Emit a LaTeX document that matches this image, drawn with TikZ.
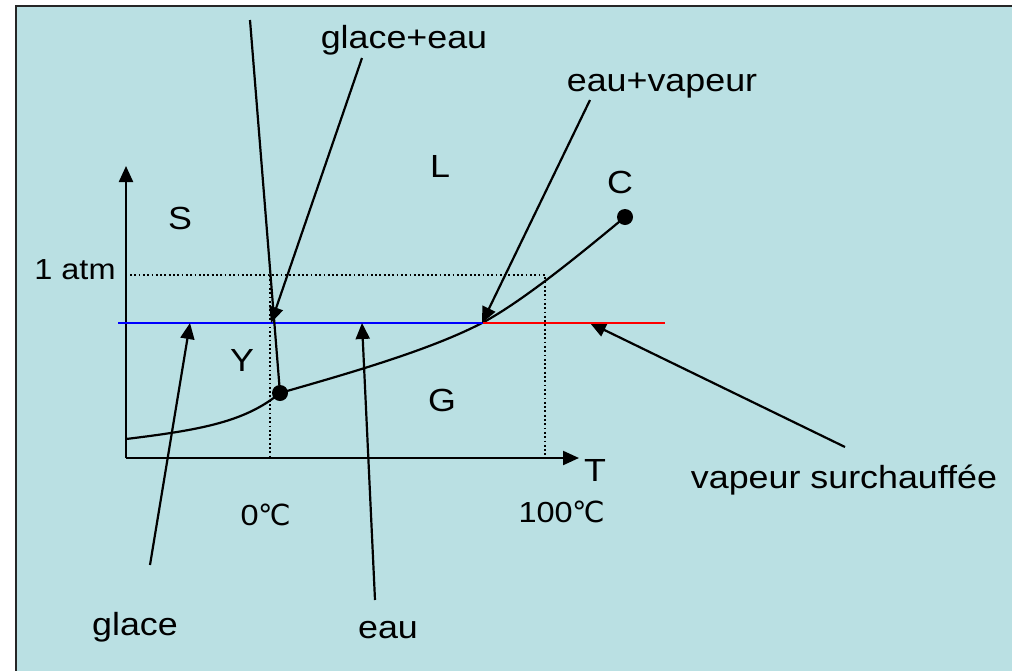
\documentclass[tikz,border=0pt]{standalone}
\usepackage{fontspec}
\setmainfont[FakeStretch=1.12]{Liberation Sans}
\newfontfamily\degfont[FakeStretch=1.0]{DejaVu Sans}
\usetikzlibrary{arrows.meta}
\definecolor{bgblue}{RGB}{186,224,227}
\definecolor{myblue}{RGB}{0,0,255}
\definecolor{myred}{RGB}{255,0,0}
\tikzset{
  lbl/.style={inner sep=0pt, font=\fontsize{32}{38}\selectfont},
  smalllbl/.style={inner sep=0pt, font=\fontsize{29}{34}\selectfont},
  ptr/.style={line width=2.2pt, -{Triangle[length=16pt,width=14pt]}},
  axis/.style={line width=2.2pt, -{Triangle[length=16pt,width=14pt]}},
  curve/.style={line width=2.2pt},
  dots/.style={line width=1.8pt, dash pattern=on 1.8pt off 2.5pt},
  dot/.style={circle, fill=black, inner sep=0pt, minimum size=16pt}
}
\begin{document}
\begin{tikzpicture}[x=1pt,y=-1pt]
\useasboundingbox (0,0) rectangle (1012,670);
\fill[white] (0,0) rectangle (1012,670);
\fill[bgblue] (16,6) rectangle (1014,672);
\draw[line width=2.6pt, black!85] (16,672) -- (16,6) -- (1014,6);

% axes
\coordinate (O) at (126,458);
\coordinate (Ytop) at (126,166);
\coordinate (Xend) at (579,458);
\draw[axis] (O) -- (Ytop);
\draw[axis] (O) -- (Xend);

% dotted guides
\coordinate (A1) at (130,275);
\coordinate (A2) at (545,275);
\coordinate (B0) at (270,275);
\coordinate (B1) at (270,458);
\coordinate (B2) at (545,458);
\draw[dots] (A1) -- (A2) -- (B2);
\draw[dots] (B0) -- (B1);

% curve
\node[dot] (tp) at (280,393) {};
\node[dot] (C) at (625,217) {};
\coordinate (cstart) at (126,439);
\coordinate (cmid) at (482,323);
\draw[curve] (cstart) .. controls (200,430) and (245,422) .. (tp.center)
  .. controls (350,373) and (430,350) .. (cmid)
  .. controls (525,300) and (585,250) .. (C.center);

% isobar
\coordinate (L0) at (118,323);
\coordinate (LM) at (483,323);
\coordinate (L1) at (665,323);
\draw[line width=2.2pt, myblue] (L0) -- (LM);

% pointer from top
\coordinate (topend) at (250,20);
\draw[curve] (topend) -- (tp.center);

% labels
\node[lbl] (S) at (180,218) {S};
\node[lbl] (L) at (440,166) {L};
\node[lbl] (Y) at (242,360) {Y};
\node[lbl] (G) at (442,400) {G};
\node[lbl] (Clbl) at (620,182) {C};
\node[lbl] (T) at (595,470) {T};
\node[smalllbl] (atm) at (75,270) {1 atm};
\node[smalllbl] (zero) at (266,515) {0{\degfont ℃}};
\node[smalllbl] (hund) at (562,512) {100{\degfont ℃}};
\node[lbl] (ge) at (404,40) {glace+eau};
\node[lbl] (ev) at (662,86) {eau+vapeur};
\node[lbl] (vs) at (844,480) {vapeur surchauffée};
\node[lbl] (gl) at (135,627) {glace};
\node[lbl] (eau) at (388,630) {eau};

% pointer start coordinates
\coordinate (geS) at (362,58);
\coordinate (geT) at (271,323);
\coordinate (evS) at (590,100);
\coordinate (evT) at (482,323);
\coordinate (vsS) at (845,447);
\coordinate (vsT) at (590,323);
\coordinate (glS) at (150,565);
\coordinate (glT) at (190,323);
\coordinate (eauS) at (375,600);
\coordinate (eauT) at (362,323);

\draw[ptr] (geS) -- (geT);
\draw[ptr] (evS) -- (evT);
\draw[ptr] (vsS) -- (vsT);
\draw[ptr] (glS) -- (glT);
\draw[ptr] (eauS) -- (eauT);

\draw[line width=2.2pt, myred] (LM) -- (L1);
\end{tikzpicture}
\end{document}
